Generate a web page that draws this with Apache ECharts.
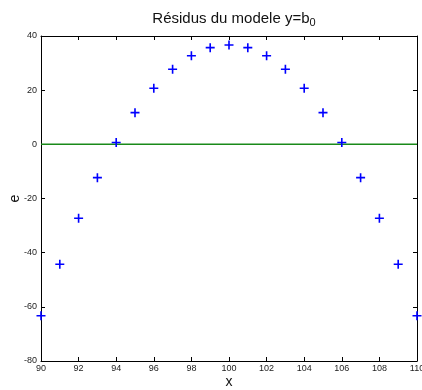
<!DOCTYPE html>
<html>
<head>
<meta charset="utf-8">
<script src="https://cdn.jsdelivr.net/npm/echarts@6/dist/echarts.min.js"></script>
<style>html,body{margin:0;padding:0;background:#fff}#c{width:422px;height:390px}</style>
</head>
<body>
<div id="c"></div>
<script>
const xValues = [90, 91, 92, 93, 94, 95, 96, 97, 98, 99, 100, 101, 102, 103, 104, 105, 106, 107, 108, 109, 110];
const residuals = [-63.3, -44.3, -27.3, -12.3, 0.7, 11.7, 20.7, 27.7, 32.7, 35.7, 36.7, 35.7, 32.7, 27.7, 20.7, 11.7, 0.7, -12.3, -27.3, -44.3, -63.3];
const zeroLineX = [90, 110];
const zeroLineY = [0, 0];
const xTicks = [90, 92, 94, 96, 98, 100, 102, 104, 106, 108, 110];
const yTicks = [-80, -60, -40, -20, 0, 20, 40];

const font = 'Liberation Sans, Arial, sans-serif';
const chart = echarts.init(document.getElementById('c'), null, {renderer: 'canvas'});
const axisCommon = {
  axisLine: {show: true, onZero: false, lineStyle: {color: '#000', width: 1}},
  axisTick: {show: true, inside: true, length: 4, lineStyle: {color: '#000'}},
  splitLine: {show: false}
};
chart.setOption({
  animation: false,
  backgroundColor: '#fff',
  title: {
    text: '{t|Résidus du modele y=b}{s|0}',
    left: 229, top: 4, textAlign: 'center',
    textStyle: {
      fontWeight: 'normal',
      rich: {
        t: {fontFamily: font, fontSize: 15, fontWeight: 'normal', color: '#111'},
        s: {fontFamily: font, fontSize: 11, fontWeight: 'normal', color: '#111', verticalAlign: 'bottom', padding: [8, 0, 0, 0]}
      }
    }
  },
  grid: {left: 41, right: 5, top: 36, bottom: 29, containLabel: false, outerBoundsMode: 'none'},
  xAxis: [
    Object.assign({}, axisCommon, {
      type: 'value', min: 90, max: 110, interval: 2, position: 'bottom',
      name: 'x', nameLocation: 'middle', nameGap: 14, nameMoveOverlap: false,
      nameTextStyle: {fontFamily: font, fontSize: 14, color: '#111'},
      axisLabel: {fontFamily: font, fontSize: 9, color: '#222', margin: 3,
        formatter: v => xTicks.includes(v) ? String(v) : ''}
    }),
    Object.assign({}, axisCommon, {
      type: 'value', min: 90, max: 110, interval: 2, position: 'top',
      axisLabel: {show: false}
    })
  ],
  yAxis: [
    Object.assign({}, axisCommon, {
      type: 'value', min: -80, max: 40, interval: 20, position: 'left',
      name: 'e', nameLocation: 'middle', nameGap: 19, nameRotate: 90, nameMoveOverlap: false,
      nameTextStyle: {fontFamily: font, fontSize: 14, color: '#111'},
      axisLabel: {fontFamily: font, fontSize: 9, color: '#222', margin: 4,
        formatter: v => yTicks.includes(v) ? String(v) : ''}
    }),
    Object.assign({}, axisCommon, {
      type: 'value', min: -80, max: 40, interval: 20, position: 'right',
      axisLabel: {show: false}
    })
  ],
  series: [
    {
      type: 'line',
      data: zeroLineX.map((x, i) => [x, zeroLineY[i]]),
      showSymbol: false, symbol: 'none',
      lineStyle: {color: '#1a8a1a', width: 1.5},
      z: 2, silent: true
    },
    {
      type: 'scatter',
      data: xValues.map((x, i) => [x, residuals[i]]),
      symbol: 'path://M4.1,0h1.8v4.1h4.1v1.8h-4.1v4.1h-1.8v-4.1h-4.1v-1.8h4.1z',
      symbolSize: 9,
      itemStyle: {color: '#0000ff', opacity: 1},
      z: 3
    }
  ]
});
</script>
</body>
</html>
